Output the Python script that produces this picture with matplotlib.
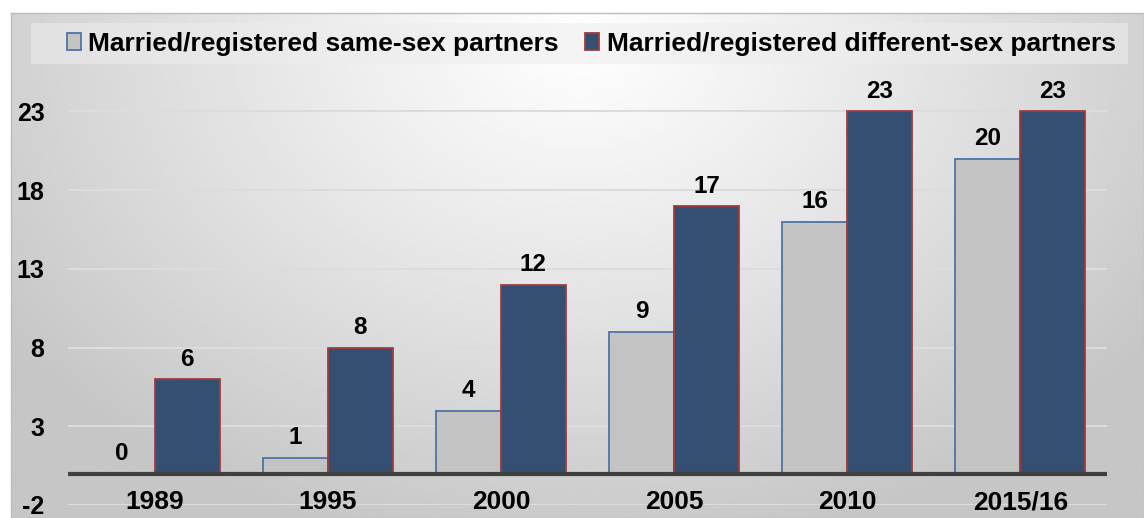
import numpy as np
import matplotlib
matplotlib.use("Agg")
import matplotlib.pyplot as plt
from matplotlib.patches import Patch, Rectangle

# Data
years = ["1989", "1995", "2000", "2005", "2010", "2015/16"]
same_sex = [0, 1, 4, 9, 16, 20]
diff_sex = [6, 8, 12, 17, 23, 23]
yticks = [-2, 3, 8, 13, 18, 23]
series_names = ["Married/registered same-sex partners",
                "Married/registered different-sex partners"]

# Colors
LIGHT_FILL = "#c3c3c3"
LIGHT_EDGE = "#4f73a6"
DARK_FILL = "#344f71"
DARK_EDGE = "#a23b3b"

plt.rcParams["font.family"] = ["Liberation Sans", "DejaVu Sans"]
plt.rcParams["font.weight"] = "bold"
plt.rcParams["axes.unicode_minus"] = False

W, H = 1144, 518
fig = plt.figure(figsize=(W / 100, H / 100), dpi=100)
fig.patch.set_facecolor("white")

# Panel with radial grey gradient
px0, py0 = 11, 13
bg = fig.add_axes([px0 / W, 0, 1 - px0 / W, (H - py0) / H], zorder=-2)
xs = np.linspace(px0, W, 400)
ys = np.linspace(py0, H, 200)
X, Y = np.meshgrid(xs, ys)
r = np.sqrt(((X - 580) / 700) ** 2 + ((Y - 40) / 520) ** 2)
shade = 254 - 56 * np.clip(r, 0, 1) ** 1.1
bg.imshow(shade, cmap="gray", vmin=0, vmax=255, aspect="auto",
          extent=(0, 1, 0, 1), interpolation="bilinear")
bg.set_xticks([])
bg.set_yticks([])
for s in bg.spines.values():
    s.set_color("#bcbcbc")
    s.set_linewidth(1)

# Legend box
fig.patches.append(Rectangle((31 / W, 1 - 64 / H), (1128 - 31) / W, (64 - 23) / H,
                             transform=fig.transFigure, facecolor="#ededed",
                             alpha=0.56, edgecolor="none", zorder=-1))

# Main axes
left, right = 68 / W, 1107 / W
bottom, top = (H - 505) / H, (H - 72) / H
ax = fig.add_axes([left, bottom, right - left, top - bottom])
ax.set_facecolor("none")

x = np.arange(len(years))
w = 0.375
b1 = ax.bar(x - w / 2, same_sex, w, color=LIGHT_FILL, edgecolor=LIGHT_EDGE,
            linewidth=1.3, zorder=3)
b2 = ax.bar(x + w / 2, diff_sex, w, color=DARK_FILL, edgecolor=DARK_EDGE,
            linewidth=1.3, zorder=3)

for bars in (b1, b2):
    for rect in bars:
        h = rect.get_height()
        ax.annotate(f"{h:g}", (rect.get_x() + rect.get_width() / 2, h),
                    xytext=(0, 6), textcoords="offset points",
                    ha="center", va="bottom", fontsize=17.5, fontweight="bold")

ax.axhline(0, color="#404040", linewidth=3, zorder=4)

ax.set_xlim(-0.5, len(years) - 0.5)
ax.set_ylim(-2, 25.5)
ax.set_yticks(yticks)
ax.yaxis.grid(True, color="#dcdcdc", linewidth=1.5)
ax.set_axisbelow(True)
ax.xaxis.set_zorder(2)

ax.set_xticks(x)
ax.set_xticklabels(years, fontsize=19, fontweight="bold")
for lab in ax.get_xticklabels():
    lab.set_va("center")
ax.tick_params(axis="x", length=0, pad=-2)
ax.tick_params(axis="y", length=0, pad=17, labelsize=18)
for s in ax.spines.values():
    s.set_visible(False)

handles = [Patch(facecolor=LIGHT_FILL, edgecolor=LIGHT_EDGE, linewidth=1.3),
           Patch(facecolor=DARK_FILL, edgecolor=DARK_EDGE, linewidth=1.3)]
fig.legend(handles, series_names, loc="center", bbox_to_anchor=(0.517, 1 - 43.5 / H),
           ncol=2, frameon=False, fontsize=19, handlelength=0.5, handleheight=0.6,
           handletextpad=0.3, columnspacing=1.0)

fig.savefig("out.png", dpi=100)
